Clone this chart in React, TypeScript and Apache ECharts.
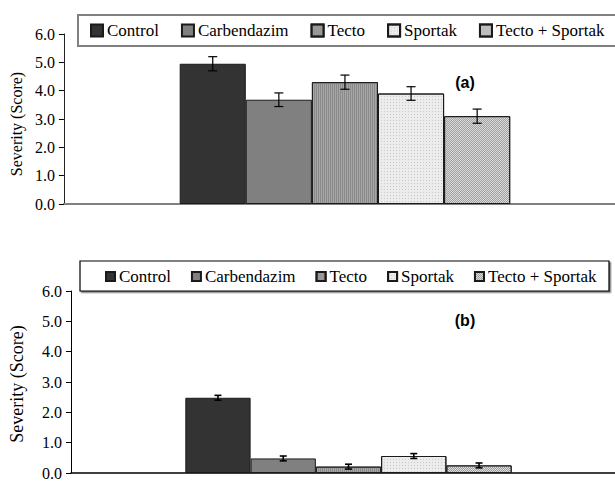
import React, { useEffect, useRef } from "react";
import * as echarts from "echarts";

const categories = ["Control", "Carbendazim", "Tecto", "Sportak", "Tecto + Sportak"];
const severityA = [4.95, 3.68, 4.3, 3.9, 3.1];
const errorA = [0.25, 0.24, 0.25, 0.24, 0.25];
const severityB = [2.48, 0.48, 0.21, 0.56, 0.25];
const errorB = [0.08, 0.08, 0.08, 0.08, 0.08];
const panelLabels = ["(a)", "(b)"];
const axisTitle = "Severity (Score)";

const GAP = 0.412;

const fills = ["#333333", "#808080", "#a6a6a6", "#ececec", "#dadada"];
const decals: any[] = [
  null,
  null,
  { symbol: "rect", symbolSize: 1, dashArrayX: [1, 1], dashArrayY: [1, 0], color: "#8a8a8a" },
  { symbol: "rect", symbolSize: 1, dashArrayX: [1, 2], dashArrayY: [1, 2], color: "#c8c8c8" },
  { symbol: "rect", symbolSize: 1, dashArrayX: [[1, 1], [0, 1, 1, 0]], dashArrayY: [1, 0], color: "#a0a0a0" },
];

const SERIF = "Liberation Serif";

function barSeries(values: number[], gridIdx: number, border: string) {
  return categories.map((name, i) => {
    const itemStyle: any = { color: fills[i], borderColor: border, borderWidth: 1 };
    if (decals[i]) itemStyle.decal = decals[i];
    return {
      type: "bar",
      name,
      xAxisIndex: gridIdx,
      yAxisIndex: gridIdx,
      data: [values[i]],
      barGap: "0%",
      barCategoryGap: GAP * 100 + "%",
      itemStyle,
      emphasis: { disabled: true },
    };
  });
}

function errorSeries(values: number[], errs: number[], gridIdx: number, cap: number, lw: number) {
  return {
    type: "custom",
    xAxisIndex: gridIdx,
    yAxisIndex: gridIdx,
    z: 10,
    silent: true,
    encode: { x: 0, y: 1 },
    data: values.map((v, i) => [0, v, errs[i], i]),
    renderItem: (params: any, api: any) => {
      const mean = api.value(1);
      const err = api.value(2);
      const idx = api.value(3);
      const band = api.size([1, 0])[0];
      const total = band * (1 - GAP);
      const bw = total / categories.length;
      const c = api.coord([0, mean]);
      const cx = c[0] - total / 2 + (idx + 0.5) * bw;
      const hi = api.coord([0, mean + err])[1];
      const lo = api.coord([0, mean - err])[1];
      const st = { stroke: "#000", lineWidth: lw };
      return {
        type: "group",
        children: [
          { type: "line", shape: { x1: cx, y1: hi, x2: cx, y2: lo }, style: st },
          { type: "line", shape: { x1: cx - cap / 2, y1: hi, x2: cx + cap / 2, y2: hi }, style: st },
          { type: "line", shape: { x1: cx - cap / 2, y1: lo, x2: cx + cap / 2, y2: lo }, style: st },
        ],
      };
    },
  };
}

export default function App() {
  const ref = useRef<HTMLDivElement>(null);
  useEffect(() => {
    if (!ref.current) return;
    const chart = echarts.init(ref.current, null, { renderer: "svg" });
    const txt = (size: number) => ({
      fontFamily: SERIF,
      fontSize: size,
      color: "#000",
    });
    chart.setOption({
      animation: false,
      backgroundColor: "#fff",
      textStyle: { fontFamily: SERIF },
      grid: [
        { left: 63, top: 34, height: 170, right: 0 },
        { left: 68, top: 291, height: 182, right: 0 },
      ],
      legend: [
        {
          data: categories,
          left: 90,
          top: 22,
          padding: 0,
          icon: "rect",
          itemWidth: 12,
          itemHeight: 12,
          itemGap: 22,
          textStyle: { ...txt(17), padding: [0, 0, 0, -1] },
          selectedMode: false,
        },
        {
          data: categories,
          left: 105,
          top: 268,
          padding: 0,
          icon: "rect",
          itemWidth: 9,
          itemHeight: 9,
          itemGap: 20,
          textStyle: { ...txt(17), padding: [0, 0, 0, -1] },
          selectedMode: false,
        },
      ],
      xAxis: [
        {
          type: "category",
          gridIndex: 0,
          data: [""],
          axisTick: { show: false },
          axisLabel: { show: false },
          axisLine: { lineStyle: { color: "#808080", width: 2 } },
        },
        {
          type: "category",
          gridIndex: 1,
          data: [""],
          axisTick: { show: false },
          axisLabel: { show: false },
          axisLine: { lineStyle: { color: "#000", width: 1.5 } },
        },
      ],
      yAxis: [0, 1].map((g) => ({
        type: "value",
        gridIndex: g,
        min: 0,
        max: 6,
        interval: 1,
        name: axisTitle,
        nameLocation: "middle",
        nameRotate: 90,
        nameGap: g === 0 ? 38 : 45,
        nameTextStyle: {
          ...txt(g === 0 ? 16 : 18),
          padding: g === 0 ? [0, 0, 0, -10] : [0, 0, 0, -4],
        },
        splitLine: { show: false },
        axisLine: { show: true, lineStyle: { color: g === 0 ? "#222" : "#000", width: 1 } },
        axisTick: { show: true, length: 5, lineStyle: { color: "#000" } },
        axisLabel: {
          ...txt(16),
          margin: 9,
          formatter: (v: number) => v.toFixed(1),
        },
      })),
      graphic: [
        {
          type: "rect",
          z: 0,
          shape: { x: 78, y: 15, width: 560, height: 31 },
          style: { fill: "#fff", stroke: "#808080", lineWidth: 2 },
        },
        {
          type: "rect",
          z: 0,
          shape: { x: 80, y: 261, width: 529, height: 30 },
          style: { fill: "#fff", stroke: "#000", lineWidth: 1.2, shadowColor: "rgba(0,0,0,0.5)", shadowOffsetX: 1.5, shadowOffsetY: 1.5, shadowBlur: 0 },
        },
        {
          type: "text",
          z: 20,
          x: 465,
          y: 82,
          style: { text: panelLabels[0], fontFamily: "Liberation Sans", fontWeight: "bold", fontSize: 16, fill: "#000", align: "center", verticalAlign: "middle" },
        },
        {
          type: "text",
          z: 20,
          x: 465,
          y: 320,
          style: { text: panelLabels[1], fontFamily: "Liberation Sans", fontWeight: "bold", fontSize: 16, fill: "#000", align: "center", verticalAlign: "middle" },
        },
      ],
      series: [
        ...barSeries(severityA, 0, "#1a1a1a"),
        ...barSeries(severityB, 1, "#1a1a1a"),
        errorSeries(severityA, errorA, 0, 9, 1.2),
        errorSeries(severityB, errorB, 1, 7, 1.6),
      ],
    });
    return () => chart.dispose();
  }, []);
  return <div ref={ref} style={{ position: "fixed", left: 0, top: 0, width: 626, height: 481 }} />;
}
